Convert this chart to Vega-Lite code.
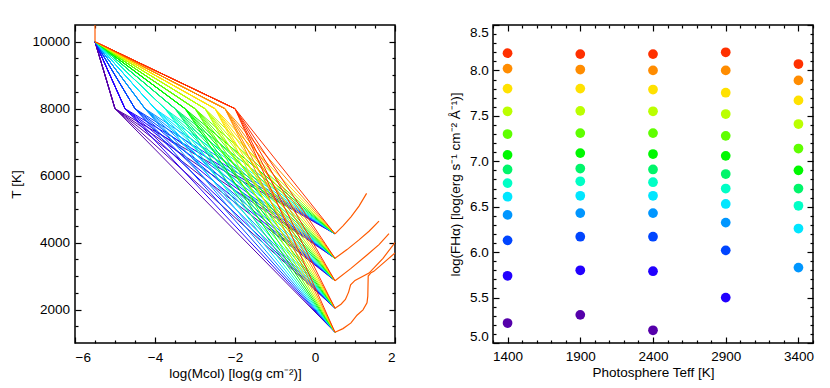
{
  "$schema": "https://vega.github.io/schema/vega-lite/v6.json",
  "background": "white",
  "padding": {"left": 9, "top": 23, "right": 0, "bottom": 0},
  "spacing": 50,
  "config": {
    "font": "Liberation Sans",
    "view": {"stroke": "black", "strokeWidth": 1.5},
    "axis": {
      "domain": false, "grid": false, "tickColor": "black", "tickWidth": 1.2,
      "labelColor": "black", "labelFontSize": 13.5, "labelFont": "Liberation Sans",
      "titleColor": "black", "titleFontSize": 13.5, "titleFontWeight": "normal", "titleFont": "Liberation Sans"
    }
  },
  "hconcat": [
    {
      "width": 320, "height": 318,
      "data": {"values": [
        {"f":0,"i":0,"x":-5.5,"T":10000},{"f":0,"i":1,"x":-5.5,"T":10500},
        {"f":1,"i":0,"x":0.5,"T":4260},{"f":1,"i":1,"x":0.7,"T":4500},{"f":1,"i":2,"x":0.9,"T":4770},{"f":1,"i":3,"x":1.1,"T":5090},{"f":1,"i":4,"x":1.29,"T":5470},
        {"f":2,"i":0,"x":0.5,"T":3530},{"f":2,"i":1,"x":0.8,"T":3790},{"f":2,"i":2,"x":1.1,"T":4080},{"f":2,"i":3,"x":1.35,"T":4340},{"f":2,"i":4,"x":1.6,"T":4640},
        {"f":3,"i":0,"x":0.5,"T":2860},{"f":3,"i":1,"x":0.9,"T":3230},{"f":3,"i":2,"x":1.3,"T":3630},{"f":3,"i":3,"x":1.6,"T":3940},{"f":3,"i":4,"x":1.85,"T":4270},
        {"f":4,"i":0,"x":0.5,"T":2040},{"f":4,"i":1,"x":0.65,"T":2160},{"f":4,"i":2,"x":0.76,"T":2300},{"f":4,"i":3,"x":0.84,"T":2520},{"f":4,"i":4,"x":0.89,"T":2740},{"f":4,"i":5,"x":1.0,"T":2870},{"f":4,"i":6,"x":1.35,"T":3090},{"f":4,"i":7,"x":1.7,"T":3530},{"f":4,"i":8,"x":2.0,"T":4000},
        {"f":5,"i":0,"x":0.5,"T":1320},{"f":5,"i":1,"x":0.7,"T":1430},{"f":5,"i":2,"x":0.9,"T":1600},{"f":5,"i":3,"x":1.05,"T":1830},{"f":5,"i":4,"x":1.2,"T":1990},{"f":5,"i":5,"x":1.3,"T":2200},{"f":5,"i":6,"x":1.32,"T":2400},{"f":5,"i":7,"x":1.33,"T":3000},{"f":5,"i":8,"x":1.4,"T":3100},{"f":5,"i":9,"x":1.47,"T":3140},{"f":5,"i":10,"x":1.75,"T":3430},{"f":5,"i":11,"x":2.0,"T":3690}
      ]},
      "layer": [
        {
          "data": {"values": [
            {"f":1,"m":-5,"x":[-5.5,-5,0.5],"T":[10000,8000,4260]},
            {"f":1,"m":-4.75,"x":[-5.5,-4.75,0.5],"T":[10000,8000,4260]},
            {"f":1,"m":-4.5,"x":[-5.5,-4.5,0.5],"T":[10000,8000,4260]},
            {"f":1,"m":-4.25,"x":[-5.5,-4.25,0.5],"T":[10000,8000,4260]},
            {"f":1,"m":-4,"x":[-5.5,-4,0.5],"T":[10000,8000,4260]},
            {"f":1,"m":-3.75,"x":[-5.5,-3.75,0.5],"T":[10000,8000,4260]},
            {"f":1,"m":-3.5,"x":[-5.5,-3.5,0.5],"T":[10000,8000,4260]},
            {"f":1,"m":-3.25,"x":[-5.5,-3.25,0.5],"T":[10000,8000,4260]},
            {"f":1,"m":-3,"x":[-5.5,-3,0.5],"T":[10000,8000,4260]},
            {"f":1,"m":-2.75,"x":[-5.5,-2.75,0.5],"T":[10000,8000,4260]},
            {"f":1,"m":-2.5,"x":[-5.5,-2.5,0.5],"T":[10000,8000,4260]},
            {"f":1,"m":-2.25,"x":[-5.5,-2.25,0.5],"T":[10000,8000,4260]},
            {"f":1,"m":-2,"x":[-5.5,-2,0.5],"T":[10000,8000,4260]},
            {"f":2,"m":-5,"x":[-5.5,-5,0.5],"T":[10000,8000,3530]},
            {"f":2,"m":-4.75,"x":[-5.5,-4.75,0.5],"T":[10000,8000,3530]},
            {"f":2,"m":-4.5,"x":[-5.5,-4.5,0.5],"T":[10000,8000,3530]},
            {"f":2,"m":-4.25,"x":[-5.5,-4.25,0.5],"T":[10000,8000,3530]},
            {"f":2,"m":-4,"x":[-5.5,-4,0.5],"T":[10000,8000,3530]},
            {"f":2,"m":-3.75,"x":[-5.5,-3.75,0.5],"T":[10000,8000,3530]},
            {"f":2,"m":-3.5,"x":[-5.5,-3.5,0.5],"T":[10000,8000,3530]},
            {"f":2,"m":-3.25,"x":[-5.5,-3.25,0.5],"T":[10000,8000,3530]},
            {"f":2,"m":-3,"x":[-5.5,-3,0.5],"T":[10000,8000,3530]},
            {"f":2,"m":-2.75,"x":[-5.5,-2.75,0.5],"T":[10000,8000,3530]},
            {"f":2,"m":-2.5,"x":[-5.5,-2.5,0.5],"T":[10000,8000,3530]},
            {"f":2,"m":-2.25,"x":[-5.5,-2.25,0.5],"T":[10000,8000,3530]},
            {"f":2,"m":-2,"x":[-5.5,-2,0.5],"T":[10000,8000,3530]},
            {"f":3,"m":-5,"x":[-5.5,-5,0.5],"T":[10000,8000,2860]},
            {"f":3,"m":-4.75,"x":[-5.5,-4.75,0.5],"T":[10000,8000,2860]},
            {"f":3,"m":-4.5,"x":[-5.5,-4.5,0.5],"T":[10000,8000,2860]},
            {"f":3,"m":-4.25,"x":[-5.5,-4.25,0.5],"T":[10000,8000,2860]},
            {"f":3,"m":-4,"x":[-5.5,-4,0.5],"T":[10000,8000,2860]},
            {"f":3,"m":-3.75,"x":[-5.5,-3.75,0.5],"T":[10000,8000,2860]},
            {"f":3,"m":-3.5,"x":[-5.5,-3.5,0.5],"T":[10000,8000,2860]},
            {"f":3,"m":-3.25,"x":[-5.5,-3.25,0.5],"T":[10000,8000,2860]},
            {"f":3,"m":-3,"x":[-5.5,-3,0.5],"T":[10000,8000,2860]},
            {"f":3,"m":-2.75,"x":[-5.5,-2.75,0.5],"T":[10000,8000,2860]},
            {"f":3,"m":-2.5,"x":[-5.5,-2.5,0.5],"T":[10000,8000,2860]},
            {"f":3,"m":-2.25,"x":[-5.5,-2.25,0.5],"T":[10000,8000,2860]},
            {"f":3,"m":-2,"x":[-5.5,-2,0.5],"T":[10000,8000,2860]},
            {"f":4,"m":-5,"x":[-5.5,-5,0.5],"T":[10000,8000,2040]},
            {"f":4,"m":-4.75,"x":[-5.5,-4.75,0.5],"T":[10000,8000,2040]},
            {"f":4,"m":-4.5,"x":[-5.5,-4.5,0.5],"T":[10000,8000,2040]},
            {"f":4,"m":-4.25,"x":[-5.5,-4.25,0.5],"T":[10000,8000,2040]},
            {"f":4,"m":-4,"x":[-5.5,-4,0.5],"T":[10000,8000,2040]},
            {"f":4,"m":-3.75,"x":[-5.5,-3.75,0.5],"T":[10000,8000,2040]},
            {"f":4,"m":-3.5,"x":[-5.5,-3.5,0.5],"T":[10000,8000,2040]},
            {"f":4,"m":-3.25,"x":[-5.5,-3.25,0.5],"T":[10000,8000,2040]},
            {"f":4,"m":-3,"x":[-5.5,-3,0.5],"T":[10000,8000,2040]},
            {"f":4,"m":-2.75,"x":[-5.5,-2.75,0.5],"T":[10000,8000,2040]},
            {"f":4,"m":-2.5,"x":[-5.5,-2.5,0.5],"T":[10000,8000,2040]},
            {"f":4,"m":-2.25,"x":[-5.5,-2.25,0.5],"T":[10000,8000,2040]},
            {"f":4,"m":-2,"x":[-5.5,-2,0.5],"T":[10000,8000,2040]},
            {"f":5,"m":-5,"x":[-5.5,-5,0.5],"T":[10000,8000,1320]},
            {"f":5,"m":-4.75,"x":[-5.5,-4.75,0.5],"T":[10000,8000,1320]},
            {"f":5,"m":-4.5,"x":[-5.5,-4.5,0.5],"T":[10000,8000,1320]},
            {"f":5,"m":-4.25,"x":[-5.5,-4.25,0.5],"T":[10000,8000,1320]},
            {"f":5,"m":-4,"x":[-5.5,-4,0.5],"T":[10000,8000,1320]},
            {"f":5,"m":-3.75,"x":[-5.5,-3.75,0.5],"T":[10000,8000,1320]},
            {"f":5,"m":-3.5,"x":[-5.5,-3.5,0.5],"T":[10000,8000,1320]},
            {"f":5,"m":-3.25,"x":[-5.5,-3.25,0.5],"T":[10000,8000,1320]},
            {"f":5,"m":-3,"x":[-5.5,-3,0.5],"T":[10000,8000,1320]},
            {"f":5,"m":-2.75,"x":[-5.5,-2.75,0.5],"T":[10000,8000,1320]},
            {"f":5,"m":-2.5,"x":[-5.5,-2.5,0.5],"T":[10000,8000,1320]},
            {"f":5,"m":-2.25,"x":[-5.5,-2.25,0.5],"T":[10000,8000,1320]},
            {"f":5,"m":-2,"x":[-5.5,-2,0.5],"T":[10000,8000,1320]}
          ]},
          "transform": [{"flatten": ["x", "T"]}],
          "mark": {"type": "line", "strokeWidth": 1, "clip": true},
          "encoding": {
            "x": {"field": "x", "type": "quantitative", "scale": {"domain": [-6, 2], "nice": false, "zero": false},
                  "axis": {"orient": "bottom", "values": [-6, -4, -2, 0, 2], "tickSize": -6, "labelPadding": 13, "title": "log(Mcol) [log(g cm⁻²)]", "titlePadding": 3}},
            "y": {"field": "T", "type": "quantitative", "scale": {"domain": [1000, 10500], "nice": false, "zero": false},
                  "axis": {"orient": "left", "values": [2000, 4000, 6000, 8000, 10000], "format": "d", "tickSize": -6, "labelPadding": 11.5, "title": "T [K]", "titlePadding": 8}},
            "color": {"field": "m", "type": "ordinal", "legend": null,
                      "scale": {"domain": [-5, -4.75, -4.5, -4.25, -4, -3.75, -3.5, -3.25, -3, -2.75, -2.5, -2.25, -2],
                                "range": ["#5500aa", "#2200ff", "#0045ff", "#0096ff", "#00e6ff", "#00ffc6", "#00f56a", "#00f800", "#5fff00", "#bbff00", "#ffe100", "#ff8c00", "#ff3000"]}},
            "detail": {"field": "f"}
          }
        },
        {
          "mark": {"type": "line", "color": "#ff5a00", "strokeWidth": 1.2, "clip": true},
          "encoding": {
            "x": {"field": "x", "type": "quantitative", "axis": {"orient": "bottom", "values": [-5.5, -5, -4.5, -3.5, -3, -2.5, -1.5, -1, -0.5, 0.5, 1, 1.5], "tickSize": -3, "labels": false, "title": null}},
            "y": {"field": "T", "type": "quantitative", "axis": {"orient": "left", "values": [1500, 2500, 3000, 3500, 4500, 5000, 5500, 6500, 7000, 7500, 8500, 9000, 9500], "tickSize": -3, "labels": false, "title": null}},
            "detail": {"field": "f"},
            "order": {"field": "i"}
          }
        },
        {
          "mark": {"type": "point", "opacity": 0, "size": 0},
          "encoding": {
            "x": {"field": "x", "type": "quantitative", "axis": {"orient": "top", "values": [-6, -4, -2, 0, 2], "tickSize": -6, "labels": false, "title": null}},
            "y": {"field": "T", "type": "quantitative", "axis": {"orient": "right", "values": [2000, 4000, 6000, 8000, 10000], "tickSize": -6, "labels": false, "title": null}}
          }
        },
        {
          "mark": {"type": "point", "opacity": 0, "size": 0},
          "encoding": {
            "x": {"field": "x", "type": "quantitative", "axis": {"orient": "top", "values": [-5.5, -5, -4.5, -3.5, -3, -2.5, -1.5, -1, -0.5, 0.5, 1, 1.5], "tickSize": -3, "labels": false, "title": null}},
            "y": {"field": "T", "type": "quantitative", "axis": {"orient": "right", "values": [1500, 2500, 3000, 3500, 4500, 5000, 5500, 6500, 7000, 7500, 8500, 9000, 9500], "tickSize": -3, "labels": false, "title": null}}
          }
        }
      ],
      "resolve": {"axis": {"x": "independent", "y": "independent"}}
    },
    {
      "width": 320, "height": 318,
      "data": {"values": [
        {"teff":1400,"m":-2,"F":8.19},{"teff":1400,"m":-2.25,"F":8.02},{"teff":1400,"m":-2.5,"F":7.80},{"teff":1400,"m":-2.75,"F":7.55},{"teff":1400,"m":-3,"F":7.30},{"teff":1400,"m":-3.25,"F":7.07},{"teff":1400,"m":-3.5,"F":6.91},{"teff":1400,"m":-3.75,"F":6.76},{"teff":1400,"m":-4,"F":6.61},{"teff":1400,"m":-4.25,"F":6.41},{"teff":1400,"m":-4.5,"F":6.13},{"teff":1400,"m":-4.75,"F":5.74},{"teff":1400,"m":-5,"F":5.22},
        {"teff":1900,"m":-2,"F":8.18},{"teff":1900,"m":-2.25,"F":8.01},{"teff":1900,"m":-2.5,"F":7.80},{"teff":1900,"m":-2.75,"F":7.555},{"teff":1900,"m":-3,"F":7.31},{"teff":1900,"m":-3.25,"F":7.09},{"teff":1900,"m":-3.5,"F":6.92},{"teff":1900,"m":-3.75,"F":6.78},{"teff":1900,"m":-4,"F":6.62},{"teff":1900,"m":-4.25,"F":6.43},{"teff":1900,"m":-4.5,"F":6.17},{"teff":1900,"m":-4.75,"F":5.80},{"teff":1900,"m":-5,"F":5.31},
        {"teff":2400,"m":-2,"F":8.18},{"teff":2400,"m":-2.25,"F":8.00},{"teff":2400,"m":-2.5,"F":7.79},{"teff":2400,"m":-2.75,"F":7.55},{"teff":2400,"m":-3,"F":7.31},{"teff":2400,"m":-3.25,"F":7.08},{"teff":2400,"m":-3.5,"F":6.91},{"teff":2400,"m":-3.75,"F":6.77},{"teff":2400,"m":-4,"F":6.62},{"teff":2400,"m":-4.25,"F":6.43},{"teff":2400,"m":-4.5,"F":6.17},{"teff":2400,"m":-4.75,"F":5.79},{"teff":2400,"m":-5,"F":5.14},
        {"teff":2900,"m":-2,"F":8.20},{"teff":2900,"m":-2.25,"F":8.00},{"teff":2900,"m":-2.5,"F":7.755},{"teff":2900,"m":-2.75,"F":7.52},{"teff":2900,"m":-3,"F":7.28},{"teff":2900,"m":-3.25,"F":7.06},{"teff":2900,"m":-3.5,"F":6.86},{"teff":2900,"m":-3.75,"F":6.70},{"teff":2900,"m":-4,"F":6.53},{"teff":2900,"m":-4.25,"F":6.325},{"teff":2900,"m":-4.5,"F":6.02},{"teff":2900,"m":-4.75,"F":5.50},
        {"teff":3400,"m":-2,"F":8.07},{"teff":3400,"m":-2.25,"F":7.89},{"teff":3400,"m":-2.5,"F":7.67},{"teff":3400,"m":-2.75,"F":7.41},{"teff":3400,"m":-3,"F":7.14},{"teff":3400,"m":-3.25,"F":6.90},{"teff":3400,"m":-3.5,"F":6.70},{"teff":3400,"m":-3.75,"F":6.51},{"teff":3400,"m":-4,"F":6.26},{"teff":3400,"m":-4.25,"F":5.83}
      ]},
      "layer": [
        {
          "mark": {"type": "point", "filled": true, "opacity": 1, "size": 95, "strokeWidth": 0},
          "encoding": {
            "x": {"field": "teff", "type": "quantitative", "scale": {"domain": [1300, 3500], "nice": false, "zero": false},
                  "axis": {"orient": "bottom", "values": [1400, 1900, 2400, 2900, 3400], "format": "d", "tickSize": -6, "labelPadding": 12, "title": "Photosphere Teff [K]", "titlePadding": 3}},
            "y": {"field": "F", "type": "quantitative", "scale": {"domain": [5, 8.5], "nice": false, "zero": false},
                  "axis": {"orient": "left", "values": [5, 5.5, 6, 6.5, 7, 7.5, 8, 8.5], "format": ".1f", "labelFlush": true, "tickSize": -6, "labelPadding": 10.7, "title": "log(FHα) [log(erg s⁻¹ cm⁻² Å⁻¹)]", "titlePadding": 7.5}},
            "color": {"field": "m", "type": "ordinal", "legend": null,
                      "scale": {"domain": [-5, -4.75, -4.5, -4.25, -4, -3.75, -3.5, -3.25, -3, -2.75, -2.5, -2.25, -2],
                                "range": ["#5500aa", "#2200ff", "#0045ff", "#0096ff", "#00e6ff", "#00ffc6", "#00f56a", "#00f800", "#5fff00", "#bbff00", "#ffe100", "#ff8c00", "#ff3000"]}}
          }
        },
        {
          "mark": {"type": "point", "opacity": 0, "size": 0},
          "encoding": {
            "x": {"field": "teff", "type": "quantitative", "axis": {"orient": "bottom", "values": [1300, 1500, 1600, 1700, 1800, 2000, 2100, 2200, 2300, 2500, 2600, 2700, 2800, 3000, 3100, 3200, 3300, 3500], "tickSize": -3, "labels": false, "title": null}},
            "y": {"field": "F", "type": "quantitative", "axis": {"orient": "left", "values": [5.1, 5.2, 5.3, 5.4, 5.6, 5.7, 5.8, 5.9, 6.1, 6.2, 6.3, 6.4, 6.6, 6.7, 6.8, 6.9, 7.1, 7.2, 7.3, 7.4, 7.6, 7.7, 7.8, 7.9, 8.1, 8.2, 8.3, 8.4], "tickSize": -3, "labels": false, "title": null}}
          }
        },
        {
          "mark": {"type": "point", "opacity": 0, "size": 0},
          "encoding": {
            "x": {"field": "teff", "type": "quantitative", "axis": {"orient": "top", "values": [1400, 1900, 2400, 2900, 3400], "tickSize": -6, "labels": false, "title": null}},
            "y": {"field": "F", "type": "quantitative", "axis": {"orient": "right", "values": [5, 5.5, 6, 6.5, 7, 7.5, 8, 8.5], "tickSize": -6, "labels": false, "title": null}}
          }
        },
        {
          "mark": {"type": "point", "opacity": 0, "size": 0},
          "encoding": {
            "x": {"field": "teff", "type": "quantitative", "axis": {"orient": "top", "values": [1300, 1500, 1600, 1700, 1800, 2000, 2100, 2200, 2300, 2500, 2600, 2700, 2800, 3000, 3100, 3200, 3300, 3500], "tickSize": -3, "labels": false, "title": null}},
            "y": {"field": "F", "type": "quantitative", "axis": {"orient": "right", "values": [5.1, 5.2, 5.3, 5.4, 5.6, 5.7, 5.8, 5.9, 6.1, 6.2, 6.3, 6.4, 6.6, 6.7, 6.8, 6.9, 7.1, 7.2, 7.3, 7.4, 7.6, 7.7, 7.8, 7.9, 8.1, 8.2, 8.3, 8.4], "tickSize": -3, "labels": false, "title": null}}
          }
        }
      ],
      "resolve": {"axis": {"x": "independent", "y": "independent"}}
    }
  ]
}
